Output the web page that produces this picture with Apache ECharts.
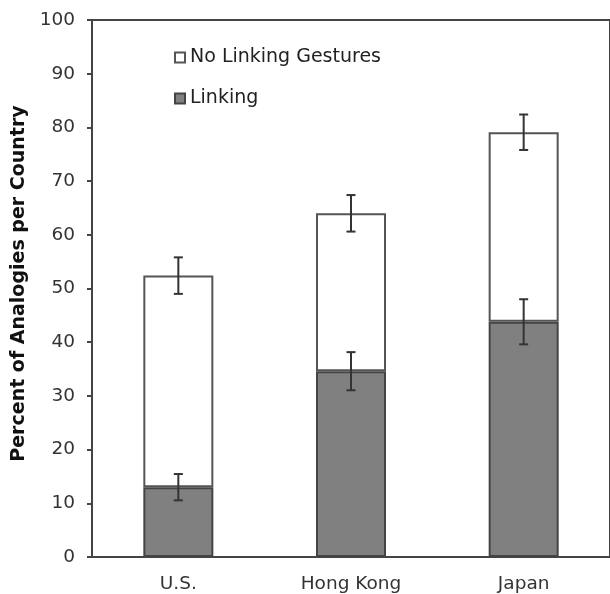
<!DOCTYPE html>
<html>
<head>
<meta charset="utf-8">
<script src="https://cdn.jsdelivr.net/npm/echarts@6/dist/echarts.min.js"></script>
<style>html,body{margin:0;padding:0;background:#fff}#c{width:610px;height:594px}</style>
</head>
<body>
<div id="c"></div>
<script>
const categories = ['U.S.', 'Hong Kong', 'Japan'];
const linking = [13.0, 34.6, 43.8];
const noLinking = [39.4, 29.4, 35.3];
const linkingErr = [2.45, 3.55, 4.2];
const totalErr = [3.4, 3.4, 3.3];
const yTicks = [0, 10, 20, 30, 40, 50, 60, 70, 80, 90, 100];

const FONT = 'DejaVu Sans';
const AX = '#444';

const errLinking = linking.map((v, i) => [i, v - linkingErr[i], v + linkingErr[i]]);
const errTotal = linking.map((v, i) => {
  const t = v + noLinking[i];
  return [i, t - totalErr[i], t + totalErr[i]];
});

function errRender(params, api) {
  const x = api.value(0);
  const lo = api.coord([x, api.value(1)]);
  const hi = api.coord([x, api.value(2)]);
  const cap = 4.5;
  const style = { stroke: '#333', lineWidth: 2 };
  return {
    type: 'group',
    children: [
      { type: 'line', shape: { x1: lo[0], y1: lo[1], x2: hi[0], y2: hi[1] }, style },
      { type: 'line', shape: { x1: hi[0] - cap, y1: hi[1], x2: hi[0] + cap, y2: hi[1] }, style },
      { type: 'line', shape: { x1: lo[0] - cap, y1: lo[1], x2: lo[0] + cap, y2: lo[1] }, style }
    ]
  };
}

const chart = echarts.init(document.getElementById('c'), null, { renderer: 'canvas' });
chart.setOption({
  animation: false,
  backgroundColor: '#fff',
  textStyle: { fontFamily: FONT },
  grid: { left: 92, top: 20, right: -1, bottom: 37, show: true, borderColor: AX, borderWidth: 2, backgroundColor: 'transparent' },
  legend: {
    orient: 'vertical',
    left: 174,
    top: 48,
    padding: 0,
    itemWidth: 10,
    itemHeight: 10,
    itemGap: 22,
    icon: 'rect',
    textStyle: { fontFamily: FONT, fontSize: 19, color: '#222' },
    data: ['No Linking Gestures', 'Linking']
  },
  xAxis: {
    type: 'category',
    data: categories,
    axisLine: { lineStyle: { color: AX, width: 2 } },
    axisTick: { length: 5, lineStyle: { color: AX, width: 2 } },
    axisLabel: { fontFamily: FONT, fontSize: 18.5, color: '#333', margin: 18 }
  },
  yAxis: {
    type: 'value',
    min: yTicks[0],
    max: yTicks[yTicks.length - 1],
    interval: 10,
    name: 'Percent of Analogies per Country',
    nameLocation: 'middle',
    nameGap: 63,
    nameTextStyle: { fontFamily: FONT, fontSize: 19, fontWeight: 'bold', color: '#111', padding: [0, 0, 0, 10] },
    splitLine: { show: false },
    axisLine: { show: true, lineStyle: { color: AX, width: 2 } },
    axisTick: { show: true, length: 5, lineStyle: { color: AX, width: 2 } },
    axisLabel: { fontFamily: FONT, fontSize: 18.5, color: '#333', margin: 17 }
  },
  series: [
    {
      name: 'Linking',
      type: 'bar',
      stack: 'a',
      barWidth: 70,
      data: linking,
      itemStyle: { color: '#808080', borderColor: '#444', borderWidth: 2 }
    },
    {
      name: 'No Linking Gestures',
      type: 'bar',
      stack: 'a',
      barWidth: 70,
      data: noLinking,
      itemStyle: { color: '#ffffff', borderColor: '#555', borderWidth: 2 }
    },
    {
      type: 'custom',
      renderItem: errRender,
      data: errLinking,
      z: 10,
      encode: { x: 0, y: [1, 2] }
    },
    {
      type: 'custom',
      renderItem: errRender,
      data: errTotal,
      z: 10,
      encode: { x: 0, y: [1, 2] }
    }
  ]
});
</script>
</body>
</html>
